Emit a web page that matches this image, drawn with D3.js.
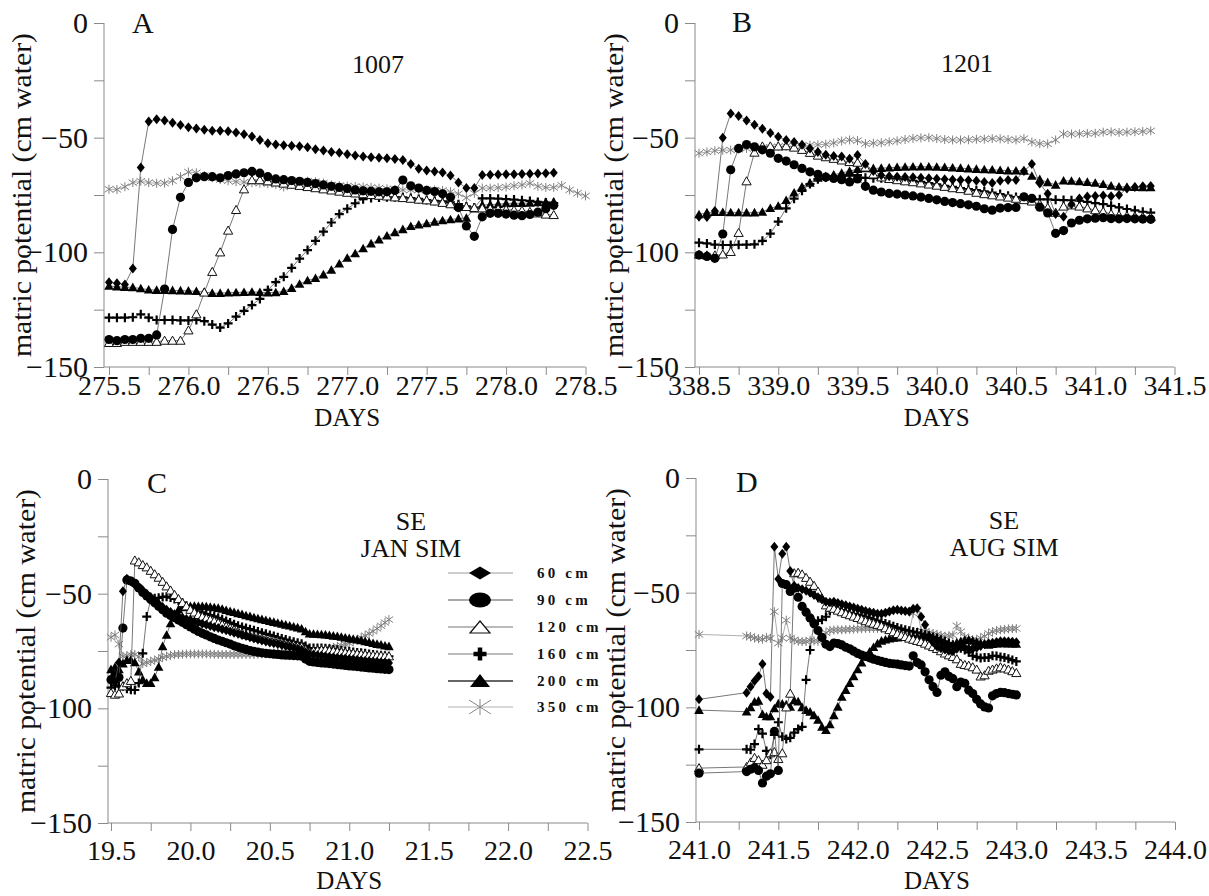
<!DOCTYPE html>
<html>
<head>
<meta charset="utf-8">
<script src="https://cdn.jsdelivr.net/npm/d3@7"></script>
<style>
body { margin: 0; background: #fff; }
text { font-family: "Liberation Serif", "Times New Roman", serif; fill: #111; }
</style>
</head>
<body>
<script>
// ---- data (matric potential, cm water) ----
var depths = ["60 cm", "90 cm", "120 cm", "160 cm", "200 cm", "350 cm"];

// A : 1007
var daysA = [275.50,275.55,275.60,275.65,275.70,275.75,275.80,275.85,275.90,275.95,276.00,276.05,276.10,276.15,276.20,276.25,276.30,276.35,276.40,276.45,276.50,276.55,276.60,276.65,276.70,276.75,276.80,276.85,276.90,276.95,277.00,277.05,277.10,277.15,277.20,277.25,277.30,277.35,277.40,277.45,277.50,277.55,277.60,277.65,277.70,277.75,277.80,277.85,277.90,277.95,278.00,278.05,278.10,278.15,278.20,278.25,278.30,278.35,278.40,278.45,278.50];
var a60 = [-113,-113.5,-114,-107,-63,-43,-42,-42.5,-43.5,-44.5,-45.5,-46,-46.5,-47,-47,-47.2,-47.8,-48.5,-49.5,-51,-52.4,-53,-53.3,-53.5,-53.7,-54.2,-55,-55.6,-56.2,-56.6,-57.2,-57.8,-58.2,-58.5,-58.8,-59,-59.3,-59.7,-61.5,-63.5,-64.3,-64.8,-65.2,-66.5,-69.5,-72,-72,-66.3,-66.2,-66.1,-66,-65.9,-65.8,-65.7,-65.6,-65.5,-65.3];
var a90 = [-138,-138.5,-138,-138,-137.5,-137.5,-136,-116,-90,-76,-69.5,-67.5,-67,-67,-67.5,-66.5,-65.8,-65.3,-64.7,-65.5,-67,-68,-68.3,-68.7,-69,-69.5,-70,-70.6,-71.2,-71.7,-72.2,-72.8,-73.2,-73.4,-73.6,-73.6,-73,-68.5,-71,-72,-73,-73.5,-74.5,-76,-80.5,-88.5,-93,-84.5,-83,-83,-83.3,-83.8,-84,-83.5,-82.5,-81,-79.5];
var a120 = [-139.5,-139.5,-139,-139,-139,-139,-139,-138.5,-138.5,-138.5,-134,-127,-117.5,-108.5,-100,-90.5,-81.5,-72.5,-68.5,-68.5,-69,-69.5,-70,-70.5,-71,-71.5,-72,-72.5,-73,-73.5,-74,-74.3,-74.6,-75,-75.3,-75.6,-76,-76.3,-76.6,-77,-77.3,-77.8,-78.4,-79,-79.6,-80.2,-80.6,-80.8,-81,-81.2,-81.4,-81.6,-81.8,-82.3,-83,-83.5,-83.7];
var a160 = [-128.5,-128.5,-128.5,-128.3,-127,-128.5,-129.5,-129.5,-129.5,-129.7,-129.7,-129.5,-130,-131.5,-132.8,-131,-128,-125.5,-123,-120.3,-116.4,-113,-110.7,-106.8,-102.7,-99,-95,-91,-87,-83.3,-81,-78.6,-76.8,-76.3,-76.1,-76,-76,-76,-76.3,-76.7,-77.2,-77.5,-77.8,-78.2,-79,-80,-80.5,-76.5,-76.5,-76.6,-76.8,-77,-77.3,-77.6,-78,-78.3,-78.5];
var a200 = [-114.7,-115,-115.2,-115.3,-115.8,-116.3,-116.5,-116.5,-116.6,-116.7,-116.8,-117,-117.3,-117.8,-117.8,-117.6,-117.5,-117.4,-117.3,-117.4,-117.6,-117.5,-117,-115.6,-113.8,-112.3,-111.3,-109.7,-107.7,-105,-102.5,-100.5,-98.3,-96.2,-94.5,-92.8,-91.3,-90,-88.6,-88,-87.4,-86.7,-86.1,-85.7,-85.3,-85,-81,-79.4,-79.2,-79,-78.7,-78.6,-78.6,-78.5,-78.3,-78.1,-78];
var a350 = [-72.5,-72.6,-71.4,-69.6,-69,-69.6,-69.9,-69.8,-68.8,-67,-65,-65.3,-66.5,-67.5,-68.3,-68.8,-69.2,-69.4,-69.6,-69.8,-70.1,-70.5,-71.5,-70.5,-69.4,-69,-69.2,-69.8,-70.6,-70.9,-71.1,-71.3,-71.5,-71.7,-72,-72.3,-72.6,-72.8,-72.8,-72.8,-72.8,-72.8,-73,-73.6,-74.5,-76.2,-74.3,-72,-72,-71.8,-71.5,-71,-70.6,-69.9,-71.2,-71.7,-71.7,-70.8,-72.8,-74.2,-75.4];

// B : 1201
var daysB = [338.50,338.55,338.60,338.65,338.70,338.75,338.80,338.85,338.90,338.95,339.00,339.05,339.10,339.15,339.20,339.25,339.30,339.35,339.40,339.45,339.50,339.55,339.60,339.65,339.70,339.75,339.80,339.85,339.90,339.95,340.00,340.05,340.10,340.15,340.20,340.25,340.30,340.35,340.40,340.45,340.50,340.55,340.60,340.65,340.70,340.75,340.80,340.85,340.90,340.95,341.00,341.05,341.10,341.15,341.20,341.25,341.30,341.35];
var b60 = [-84.5,-84.6,-82,-50,-39.5,-40.6,-42.5,-44.4,-46.1,-48,-49.6,-51,-51.9,-53.1,-54.7,-56.2,-57.5,-58,-58.2,-59.2,-57.6,-61.5,-64.5,-66.4,-66.8,-67,-67.2,-67.3,-67.5,-67.7,-67.9,-68.1,-68.3,-68.5,-68.6,-68.8,-69.3,-69.8,-68.8,-68.5,-68.5,-64.5,-61.5,-70,-74.5,-83.3,-84.5,-79,-76.5,-75.6,-75.4,-75.2,-75.5,-75,-72.2,-71.5,-71.2,-71.1];
var b90 = [-101.2,-101.8,-102.6,-92,-64,-54.7,-53,-54,-55.3,-56.8,-59,-60.2,-61.8,-63.4,-64.9,-66,-67.2,-67.8,-68.3,-69.3,-68,-71.2,-72.9,-73.7,-74.3,-74.6,-75,-75.4,-75.9,-76.5,-77.1,-77.8,-78.3,-78.8,-79.3,-79.9,-81,-81.6,-80.7,-80.5,-80.4,-75.8,-76.5,-80.3,-82.8,-91.7,-90.5,-87.2,-86,-85.4,-85.1,-84.9,-85.3,-85.4,-85.3,-85.4,-85.5,-85.6];
var b120 = [-101,-101.3,-101.3,-100.9,-99.8,-91.5,-69,-56.5,-53.8,-53.8,-53.8,-53.7,-54.3,-55.3,-56.6,-57.8,-58.5,-59.2,-59.9,-60.6,-60.9,-63,-66,-67.3,-68,-68.5,-69,-69.4,-69.9,-70.4,-70.9,-71.4,-72,-72.4,-73.1,-74,-74.6,-75.1,-75.6,-76.1,-76.6,-77.2,-77.8,-79,-80.6,-82.7,-80,-79.5,-80,-80.8,-81.6,-82.3,-83.3,-83.9,-84.2,-84.4,-84.6,-84.7];
var b160 = [-95.8,-96.1,-96.6,-96.8,-96.8,-96.7,-96.6,-96.5,-95,-91.8,-86.6,-80.8,-76.6,-73.2,-70.2,-68.1,-67.4,-67.2,-67,-66.6,-66.3,-67.5,-67.7,-67.7,-67.7,-67.8,-68.2,-68.8,-69.3,-69.8,-70.4,-71,-71.5,-72,-72.4,-72.9,-73.4,-74,-74.6,-75.3,-75.9,-76.5,-76.9,-76.9,-76.9,-77.1,-77.2,-77.3,-77.5,-78,-78.5,-79,-79.7,-80.4,-81.1,-81.7,-82.3,-82.7];
var b200 = [-83.5,-82.7,-82.5,-82.5,-82.6,-82.6,-82.7,-82.7,-82.4,-80.8,-79.8,-77.3,-74,-71.4,-69.7,-67.6,-66.8,-66.2,-65.4,-64.6,-63.7,-63.4,-63.4,-63.3,-63.1,-62.9,-62.8,-62.7,-62.7,-62.7,-62.8,-62.9,-63.1,-63.3,-63.5,-63.7,-63.9,-64,-64.2,-64.4,-64.4,-64.5,-66.7,-68.2,-69.5,-70.6,-68.8,-68.9,-69.1,-69.4,-69.8,-70.3,-71,-71.4,-71.5,-71.6,-71.7,-71.7];
var b350 = [-56.8,-56.2,-55.7,-55.5,-55.4,-55,-54.7,-54.7,-54.6,-54.2,-53.9,-53.8,-53.6,-53.5,-53.3,-53.1,-52.9,-52.3,-51.5,-51,-51.3,-52.6,-52.4,-52.2,-51.8,-51.4,-50.8,-50.3,-50.1,-50,-50.4,-50.8,-51,-51,-50.9,-50.7,-50.6,-50.4,-50.5,-50.8,-51,-50.4,-51.9,-52.6,-52.7,-51,-48.4,-48.4,-48.3,-48.2,-48.1,-47.6,-47.5,-47.7,-47.6,-47.4,-47.3,-47];

// C : SE JAN SIM
var daysC = [19.500,19.525,19.550,19.575,19.600,19.625,19.650,19.675,19.700,19.725,
             19.750,19.775,19.800,19.825,19.850,19.875,19.900,19.925,19.950,19.975,
             20.000,20.025,20.050,20.075,20.100,20.125,20.150,20.175,20.200,20.225,
             20.250,20.275,20.300,20.325,20.350,20.375,20.400,20.425,20.450,20.475,
             20.500,20.525,20.550,20.575,20.600,20.625,20.650,20.675,20.700,20.725,
             20.750,20.775,20.800,20.825,20.850,20.875,20.900,20.925,20.950,20.975,
             21.000,21.025,21.050,21.075,21.100,21.125,21.150,21.175,21.200,21.225,21.250];
var c60 = [-88,-88.5,-80,-49,-43.5,-44.5,-46,-47.2,-48.5,-50,
           -51.5,-53,-54.5,-55.8,-57,-58,-59,-59.8,-60.5,-61,
           -61.5,-62.1,-62.6,-63.1,-63.6,-64.1,-64.6,-65,-65.5,-66,
           -66.5,-67,-67.5,-68,-68.5,-69,-69.5,-70,-70.4,-70.9,
           -71.3,-71.6,-72,-72.4,-72.8,-73.2,-73.6,-74,-74.5,-75.5,
           -76.3,-76.5,-76.8,-77,-77.3,-77.5,-77.7,-77.9,-78.1,-78.3,
           -78.5,-78.6,-78.8,-79,-79.2,-79.4,-79.6,-79.7,-79.9,-80,-80.2];
var c90 = [-87.5,-85.5,-86.5,-65,-44,-44.5,-45.5,-47.5,-49.5,-51,
           -52.5,-54,-55.5,-57,-58.5,-59.5,-60.5,-61.5,-62.5,-63.5,
           -64.5,-65.5,-66.5,-67.3,-68,-68.8,-69.5,-70.2,-70.8,-71.4,
           -72,-72.7,-73.3,-73.8,-74.3,-74.8,-75.2,-75.5,-75.8,-76,
           -76.2,-76.4,-76.5,-76.7,-76.8,-76.9,-77,-77.1,-77.3,-78.5,
           -79.5,-79.8,-80,-80.2,-80.3,-80.5,-80.7,-80.9,-81.1,-81.3,
           -81.5,-81.6,-81.8,-82,-82.2,-82.4,-82.5,-82.7,-82.8,-83,-83.1];
var c120 = [-93.3,-94,-93.5,-90.4,-89,-88,-35.5,-36.3,-37.5,-38.5,
            -40,-41.5,-43,-44.8,-46.8,-48.6,-50.5,-52.3,-54,-55.5,
            -57,-58.2,-59.3,-60.1,-60.8,-61.4,-62,-62.8,-63.5,-64.3,
            -65,-65.8,-66.5,-67.3,-68,-68.4,-68.8,-69.2,-69.5,-69.9,
            -70.2,-70.6,-71,-71.4,-71.8,-72.2,-72.5,-72.9,-73.2,-74.5,
            -75.5,-75,-74.8,-74.6,-74.5,-74.8,-75,-75.3,-75.5,-75.7,
            -75.9,-76,-76.2,-76.4,-76.6,-76.8,-76.9,-77,-77.1,-77.2,-77.3];
var c160 = [-91,-90,-90.5,-90.4,-91.5,-91.9,-92,-89,-76,-60,
            -52.5,-52,-51.8,-51.4,-51.3,-51.7,-52.3,-53,-54,-55.3,
            -56.5,-57.2,-57.7,-58.2,-58.8,-59.3,-59.9,-60.5,-61.2,-61.9,
            -62.6,-63.3,-64,-64.5,-65,-65.5,-66,-66.5,-67,-67.5,
            -68,-68.5,-69,-69.5,-70,-70.5,-71,-71.4,-71.8,-72.8,
            -73.7,-73.7,-73.7,-73.7,-73.8,-74,-74.3,-74.5,-74.8,-75,
            -75.2,-75.4,-75.6,-75.8,-76,-76.3,-76.5,-76.7,-76.9,-77.1,-77.3];
var c200 = [-83,-82,-83,-80.5,-79,-79,-80,-84,-87.5,-89,
            -89,-86.5,-82,-73,-68,-63,-59,-57,-56,-55.6,
            -55.5,-55.4,-55.5,-55.5,-55.6,-55.8,-56,-56.3,-56.7,-57.2,
            -57.7,-58.1,-58.6,-59,-59.5,-59.9,-60.4,-60.8,-61.2,-61.6,
            -62,-62.4,-62.8,-63.2,-63.6,-64,-64.4,-64.8,-65.3,-66.5,
            -67.5,-67.6,-67.7,-67.8,-67.9,-68.1,-68.4,-68.6,-68.9,-69.2,
            -69.5,-69.8,-70.1,-70.4,-70.8,-71.2,-71.6,-72,-72.3,-72.7,-73];
var c350 = [-69,-68,-72,-77.3,-77,-76.6,-76.5,-77.5,-80.5,-80,
            -79.5,-79,-78.5,-77.8,-77.3,-76.9,-76.6,-76.5,-76.4,-76.3,
            -76.3,-76.3,-76.3,-76.3,-76.3,-76.4,-76.4,-76.5,-76.5,-76.5,
            -76.5,-76.5,-76.5,-76.5,-76.5,-76.5,-76.5,-76.4,-76.3,-76.2,
            -76,-75.9,-75.7,-75.5,-75.4,-75.2,-75.1,-75,-74.9,-74.8,
            -74.7,-74.5,-74.4,-74.2,-74,-73.7,-73.4,-73,-72.6,-72.1,
            -71.6,-70.8,-70,-69.2,-68.3,-67.4,-66.4,-65.2,-64,-62.6,-61.3];

// D : SE AUG SIM
var daysD = [241.000,
             241.300,241.325,241.350,241.375,241.400,241.425,241.450,241.475,241.500,241.525,
             241.550,241.575,241.600,241.625,241.650,241.675,241.700,241.725,241.750,241.775,
             241.800,241.825,241.850,241.875,241.900,241.925,241.950,241.975,242.000,242.025,
             242.050,242.075,242.100,242.125,242.150,242.175,242.200,242.225,242.250,242.275,
             242.300,242.325,242.350,242.375,242.400,242.425,242.450,242.475,242.500,242.525,
             242.550,242.575,242.600,242.625,242.650,242.675,242.700,242.725,242.750,242.775,
             242.800,242.825,242.850,242.875,242.900,242.925,242.950,242.975,243.000];
var d60 = [-96.5,
           -93.6,-91,-88.5,-86.4,-81.1,-94,-95.5,-30,-44,-33,
           -30,-40.5,-47,-48,-48.5,-49.2,-50,-51,-52,-53,
           -54,-54.2,-54,-54.5,-55,-55.5,-56,-56.5,-57,-57.5,
           -58,-58.4,-58.8,-59.2,-59.2,-58.8,-58.2,-57.7,-57.5,-57.8,
           -58,-58.2,-57,-56.8,-60.5,-64,-69,-71.5,-73.5,-74.2,
           -74.8,-75.3,-75.5,-74.5,-73.5,-74,-74.5,-74.5,-74,-73.3,
           -72.5,-72.1,-71.8,-71.5,-71.2,-71.2,-71.3,-71.4,-71.6];
var d90 = [-128.7,
           -128,-127,-126.3,-127.5,-133,-130,-129,-110.5,-127.5,-46,
           -46.5,-49.5,-48,-52,-56,-58.5,-61,-63.5,-66.5,-69.5,
           -72.5,-73.5,-72,-72.2,-72.8,-73.8,-74.5,-75.5,-76.5,-77.2,
           -77.8,-78.4,-79,-79.5,-80,-80.4,-80.8,-81,-81.2,-81.5,
           -81.8,-82,-77.5,-80.5,-81.5,-84.5,-88,-91,-93.5,-86,
           -84.5,-86.5,-87.5,-91,-89,-89.5,-92.5,-94,-96.5,-98.5,
           -99.8,-100.3,-95,-94,-93.5,-93.6,-94,-94.3,-94.6];
var d120 = [-126.5,
            -126,-124,-122,-123,-125,-123,-120,-119.5,-122.5,-120,
            -100,-94,-41.5,-41.3,-42,-43.5,-45.2,-47,-49.5,-52.5,
            -55.5,-56.5,-57,-57.8,-58.5,-59.2,-59.8,-60.4,-61,-61.7,
            -62.4,-63,-63.5,-64,-64.6,-65.5,-66.3,-67.2,-68,-68.7,
            -69.3,-70,-70.5,-71,-71.5,-72.2,-73,-73.7,-74.5,-75.5,
            -76.5,-77.3,-78,-79,-81,-81.5,-81.8,-82.5,-83.5,-86.5,
            -86,-84,-83.5,-83,-82.5,-83,-83.5,-84.2,-85];
var d160 = [-118.3,
            -118.3,-118.5,-116,-109.5,-111.5,-119,-120.7,-112,-106.5,-112.8,
            -113.8,-113.3,-111,-109.5,-108.5,-88,-75,-63,-62.3,-61.8,
            -60.5,-58,-56,-57,-57.6,-58.2,-58.8,-59.2,-59.6,-60,
            -60.4,-61,-61.6,-62.2,-62.8,-63.4,-64,-64.6,-65.2,-65.7,
            -66.2,-66.6,-67,-67.4,-67.8,-68.3,-68.8,-69.3,-69.8,-70.5,
            -71.2,-72,-72.8,-73.5,-74.2,-75,-76,-77.5,-78,-78.5,
            -78.3,-78.3,-77.5,-77.6,-78,-78.3,-78.8,-79.4,-80];
var d200 = [-101.2,
            -101.9,-100,-97.6,-97.2,-103,-104,-104,-100.5,-98.4,-98.5,
            -98.8,-99.8,-97,-97.5,-100,-101.2,-102,-103.5,-105.5,-108.5,
            -110,-107.5,-103.5,-99.8,-95.5,-92.5,-89.5,-86.5,-83.5,-80.5,
            -77.8,-75.8,-73.8,-72.2,-71,-70.5,-70.1,-69.8,-69.6,-69.4,
            -69.3,-69.2,-69.2,-69.2,-69.3,-69.4,-69.5,-69.8,-70.3,-71,
            -71.8,-72.5,-72.5,-71.8,-71.2,-70.8,-70.6,-71,-71.5,-72,
            -72.5,-72.8,-72.5,-72.3,-72.1,-72.1,-72.2,-72.3,-72.4];
var d350 = [-68.2,
            -68.9,-69.2,-69.8,-70.1,-70.3,-69.5,-69.9,-58.3,-72,-69.8,
            -62,-69.9,-70.6,-71.2,-71.3,-71.3,-70.8,-71,-71.2,-70,
            -67.5,-66.5,-66.3,-66.2,-66.2,-66.1,-66,-65.9,-65.8,-65.7,
            -65.6,-65.6,-65.6,-65.6,-65.6,-65.7,-65.9,-66.1,-66.3,-66.5,
            -66.8,-67.3,-59,-57.5,-66.5,-67,-67.5,-67.8,-68.2,-68.6,
            -69,-68.8,-68.5,-64.5,-67,-69.2,-70,-70.6,-70.5,-69.8,
            -69,-67.8,-67,-66.5,-66.2,-66,-65.8,-65.7,-65.6];

var yTicks = [0, -25, -50, -75, -100, -125, -150];

// ---- drawing ----
var serif = "Liberation Serif, Times New Roman, serif";

var svg = d3.select("body").append("svg")
    .attr("width", 1209)
    .attr("height", 896)
    .attr("font-family", serif);

svg.append("rect").attr("width", 1209).attr("height", 896).attr("fill", "#fff");

var kinds = ["diamond", "circle", "triOpen", "plus", "triFill", "star"];

function marker(g, kind) {
    if (kind == "diamond") {
        g.append("path").attr("d", "M0,-5L4,0L0,5L-4,0Z").attr("fill", "#000");
    } else if (kind == "circle") {
        g.append("circle").attr("r", 4.6).attr("fill", "#000");
    } else if (kind == "triOpen") {
        g.append("path").attr("d", "M0,-4.5L4.6,3.6L-4.6,3.6Z")
            .attr("fill", "#fff").attr("stroke", "#111").attr("stroke-width", 1);
    } else if (kind == "plus") {
        g.append("path").attr("d", "M-4.5,0H4.5M0,-4.5V4.5")
            .attr("stroke", "#000").attr("stroke-width", 2.2);
    } else if (kind == "triFill") {
        g.append("path").attr("d", "M0,-4.8L4.8,3.8L-4.8,3.8Z").attr("fill", "#000");
    } else {
        g.append("path").attr("d", "M0,-4.5V4.5M-4.2,-3L4.2,3M-4.2,3L4.2,-3")
            .attr("stroke", "#808080").attr("stroke-width", 1);
    }
}

var panels = [
    {days: daysA, series: [a60, a90, a120, a160, a200, a350], dom: [275.5, 278.5], rng: [109, 585.5],
     ax: 104, top: 23, bot: 367, pad: 0, daysY: 426, titleX: 31, letter: "A", lx: 132, ly: 33,
     notes: [["1007", 378, 73]]},
    {days: daysB, series: [b60, b90, b120, b160, b200, b350], dom: [338.5, 341.5], rng: [699, 1174.5],
     ax: 695, top: 23, bot: 367, pad: 0, daysY: 426, titleX: 623, letter: "B", lx: 732, ly: 32,
     notes: [["1201", 967, 72]]},
    {days: daysC, series: [c60, c90, c120, c160, c200, c350], dom: [19.5, 22.5], rng: [111, 587.5],
     ax: 108, top: 479, bot: 823, pad: 9, daysY: 889, titleX: 35, letter: "C", lx: 147, ly: 493,
     notes: [["SE", 411, 530], ["JAN SIM", 411, 557]]},
    {days: daysD, series: [d60, d90, d120, d160, d200, d350], dom: [241, 244], rng: [699, 1175],
     ax: 696, top: 478, bot: 822, pad: 9, daysY: 889, titleX: 625, letter: "D", lx: 736, ly: 492,
     notes: [["SE", 1004, 529], ["AUG SIM", 1004, 556]]}
];

panels.forEach(function(p) {
    var x = d3.scaleLinear().domain(p.dom).range(p.rng);
    var y = d3.scaleLinear().domain([0, -150]).range([p.top, p.bot]);
    var g = svg.append("g");

    // axis lines
    g.append("line").attr("x1", p.ax).attr("x2", p.ax).attr("y1", p.top).attr("y2", p.bot)
        .attr("stroke", "#8a8a8a");
    g.append("line").attr("x1", p.ax).attr("x2", p.rng[1]).attr("y1", p.bot).attr("y2", p.bot)
        .attr("stroke", "#8a8a8a");

    var ya = g.append("g").attr("transform", "translate(" + p.ax + ",0)")
        .call(d3.axisLeft(y).tickValues(yTicks).tickSize(10).tickPadding(6)
            .tickFormat(function(v) { return v % 50 == 0 ? d3.format("d")(v) : ""; }));

    var xt = [];
    for (var i = 0; i <= 12; i++) xt.push(p.dom[0] + i * 0.25);
    var xa = g.append("g").attr("transform", "translate(0," + p.bot + ")")
        .call(d3.axisBottom(x).tickValues(xt).tickSize(8).tickPadding(p.pad)
            .tickFormat(function(v, i) { return i % 2 == 0 ? v.toFixed(1) : ""; }));

    [ya, xa].forEach(function(a) {
        a.select(".domain").remove();
        a.attr("font-family", serif);
        a.selectAll("line").attr("stroke", "#8a8a8a");
        a.selectAll("text").attr("fill", "#111");
    });
    ya.attr("font-size", 30);
    xa.attr("font-size", 28);

    g.append("text").attr("x", (p.rng[0] + p.rng[1]) / 2).attr("y", p.daysY)
        .attr("text-anchor", "middle").attr("font-size", 25).text("DAYS");
    g.append("text")
        .attr("transform", "translate(" + p.titleX + "," + (p.top + p.bot) / 2 + ") rotate(-90) scale(1.1,1)")
        .attr("text-anchor", "middle").attr("font-size", 27).text("matric potential (cm water)");
    g.append("text").attr("x", p.lx).attr("y", p.ly).attr("font-size", 30).text(p.letter);
    p.notes.forEach(function(n) {
        g.append("text").attr("x", n[1]).attr("y", n[2]).attr("text-anchor", "middle")
            .attr("font-size", 26).text(n[0]);
    });

    var line = d3.line().x(function(d) { return x(d[0]); }).y(function(d) { return y(d[1]); });

    // draw the deepest sensor first so the black markers sit on top
    [5, 4, 3, 2, 1, 0].forEach(function(k) {
        var n = Math.min(p.series[k].length, p.days.length);
        var pts = p.series[k].slice(0, n).map(function(v, i) { return [p.days[i], v]; });
        g.append("path").datum(pts).attr("d", line).attr("fill", "none")
            .attr("stroke", k == 5 ? "#9a9a9a" : "#555").attr("stroke-width", 0.8);
        g.selectAll(null).data(pts).enter().append("g")
            .attr("transform", function(d) { return "translate(" + x(d[0]) + "," + y(d[1]) + ")"; })
            .each(function() { marker(d3.select(this), kinds[k]); });
    });
});

// legend (panel C)
var legY = [573, 600, 627, 654, 681, 707];
var legLine = ["#9a9a9a", "#555", "#777", "#777", "#666", "#b0b0b0"];
var leg = svg.append("g");
depths.forEach(function(name, k) {
    var row = leg.append("g").attr("transform", "translate(480," + legY[k] + ")");
    row.append("line").attr("x1", -32).attr("x2", 33).attr("stroke", legLine[k])
        .attr("stroke-width", k == 4 ? 2 : 1);
    if (k == 0) row.append("path").attr("d", "M0,-6.5L11,0L0,6.5L-11,0Z").attr("fill", "#000");
    if (k == 1) row.append("ellipse").attr("rx", 11).attr("ry", 7.5).attr("fill", "#000");
    if (k == 2) row.append("path").attr("d", "M0,-6L10,6L-10,6Z").attr("fill", "#fff")
        .attr("stroke", "#111").attr("stroke-width", 1.2);
    if (k == 3) row.append("path").attr("d", "M-6.5,0H6.5M0,-6.5V6.5")
        .attr("stroke", "#000").attr("stroke-width", 4.5);
    if (k == 4) row.append("path").attr("d", "M0,-7L10,6L-10,6Z").attr("fill", "#000");
    if (k == 5) row.append("path").attr("d", "M0,-8V8M-11,-7L11,7M-11,7L11,-7")
        .attr("stroke", "#888").attr("stroke-width", 1);
    row.append("text").attr("x", 57).attr("y", 5).attr("font-size", 15)
        .attr("font-weight", "bold").attr("letter-spacing", 3.2).text(name);
});
</script>
</body>
</html>
